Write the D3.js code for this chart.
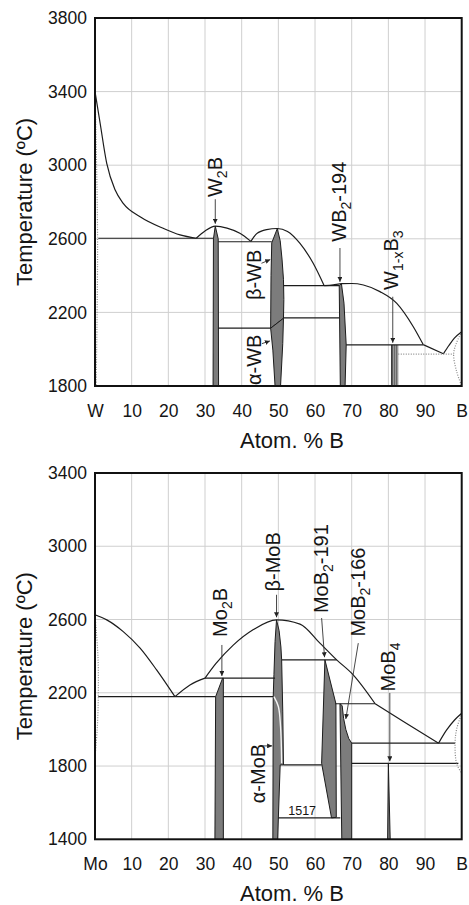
<!DOCTYPE html>
<html>
<head>
<meta charset="utf-8">
<script src="https://cdn.jsdelivr.net/npm/d3@7"></script>
<style>
  body { margin: 0; background: #fff; }
  svg { font-family: "Liberation Sans", Arial, Helvetica, sans-serif; }
  .grid line { stroke: #cfcfcf; stroke-width: 1; }
  .axis text { font-size: 17.5px; fill: #151515; }
  .axis path, .axis line { display: none; }
  .title { font-size: 22px; fill: #151515; }
  .boundary { fill: none; stroke: #1c1c1c; stroke-width: 1.2; }
  .dotted { fill: none; stroke: #8a8a8a; stroke-width: 1.2; stroke-dasharray: 1 1.5; }
  .phase { fill: #7c7c7c; stroke: #1c1c1c; stroke-width: 1; }
  .hatched { fill: url(#stripes); stroke: none; }
  .frame { fill: none; stroke: #111; stroke-width: 2; }
  .label { font-size: 20px; fill: #151515; }
  .note { font-size: 12.5px; fill: #151515; }
  .arrow { stroke: #333; stroke-width: 0.9; fill: none; }
</style>
</head>
<body>
<script>
// Set up page
var svgWidth = 469;
var svgHeight = 905;

// Shared composition ticks (at.% B)
var xTicks = [0, 10, 20, 30, 40, 50, 60, 70, 80, 90, 100];

// ---------- W-B diagram ----------
var wbTempTicks = [1800, 2200, 2600, 3000, 3400, 3800];

// liquidus pieces (smooth)
var wbLiquidusW = [[0, 3400], [1.4, 3228], [3.2, 3010], [5.5, 2865], [7.7, 2793], [12.3, 2720], [18.6, 2657], [23.2, 2621], [27.6, 2603]];
var wbLiquidusW2B = [[27.6, 2603], [30, 2642], [32.8, 2669], [36, 2658], [39.5, 2630], [42.5, 2586]];
var wbLiquidusWB = [[42.5, 2586], [44.1, 2628], [46.8, 2650], [49.7, 2656], [52.5, 2640], [55.9, 2575], [59.5, 2467], [62.5, 2345]];
var wbLiquidusWB2 = [[62.5, 2345], [65, 2350], [67.3, 2356], [70, 2357], [73.2, 2349], [77.7, 2313], [82.3, 2249], [86.8, 2122], [89.5, 2025]];
var wbLiquidusB = [[95, 1975], [96.5, 2020], [98, 2060], [100, 2095]];
var wbStraight = [[[89.5, 2025], [95, 1975]]];

// isotherms: [from x, to x, T]
var wbIsotherms = [
  [0.9, 32.3, 2603],
  [33.6, 48.2, 2584],
  [33.6, 47.9, 2114],
  [51.4, 66.6, 2170],
  [51.4, 66.6, 2345],
  [68.5, 89.5, 2023]
];

var wbDotted = [
  [[0, 3400], [0.7, 2603], [0.3, 1800]],
  [[82.7, 1973], [97.8, 1973]],
  [[100, 2095], [98.5, 2030], [97.8, 1973], [98.6, 1880], [100, 1800]]
];

// compound fields
var wbPhaseW2B = [[32.8, 2669], [32.3, 2600], [32.2, 1800], [33.7, 1800], [33.6, 2600]];
var wbPhaseBetaWB = [[49.7, 2655], [50.5, 2590], [51.0, 2490], [51.4, 2380], [51.5, 2270], [51.4, 2168], [47.9, 2114], [48.0, 2400], [48.2, 2578]];
var wbPhaseAlphaWB = [[47.9, 2114], [51.4, 2168], [51.2, 2030], [50.6, 1800], [49.1, 1800], [48.5, 1995]];
var wbPhaseWB2 = [[67.2, 2356], [66.6, 2345], [66.9, 1800], [68.2, 1800], [68.5, 2023], [67.9, 2250]];
var wbPhaseW1xB3 = [[80.9, 2023], [82.7, 2023], [82.7, 1800], [80.9, 1800]];

// labels: text parts ("_" = subscript), anchor composition and temperature
var wbLabels = [
  { parts: ["W", "_2", "B"], x: 34.6, t: 2827 },
  { parts: ["\u03b2-WB"], x: 45.2, t: 2267 },
  { parts: ["\u03b1-WB"], x: 45.2, t: 1805 },
  { parts: ["WB", "_2", "-194"], x: 68.4, t: 2584 },
  { parts: ["W", "_1-x", "B", "_3"], x: 82.6, t: 2322 }
];
var wbArrows = [
  [[32.8, 2815], [32.8, 2682]],
  [[45.4, 2467], [47.8, 2487]],
  [[45.5, 2030], [47.7, 2045]],
  [[66.8, 2550], [66.8, 2366]],
  [[81.2, 2285], [81.2, 2035]]
];

// ---------- Mo-B diagram ----------
var moTempTicks = [1400, 1800, 2200, 2600, 3000, 3400];

var moLiquidusMo = [[0, 2626], [3.2, 2598], [7.7, 2534], [12.3, 2444], [16.8, 2325], [21.8, 2179]];
var moLiquidusMo2B = [[21.8, 2179], [25.9, 2243], [30, 2280]];
var moLiquidusMoB = [[30, 2280], [33, 2360], [37.7, 2460], [43.2, 2545], [49.5, 2598], [55.9, 2575], [61.4, 2470], [65.9, 2380], [70.4, 2298], [76.4, 2140]];
var moLiquidusB = [[93.7, 1925], [95.9, 1997], [98, 2050], [100, 2088]];
var moStraight = [[[76.4, 2140], [84.1, 2043], [93.7, 1925]]];

var moIsotherms = [
  [0.9, 32.9, 2179],
  [35.0, 48.6, 2179],
  [30, 49.1, 2280],
  [50.9, 65.9, 2380],
  [65.5, 76.4, 2140],
  [70, 98.2, 1925],
  [70, 99.1, 1815],
  [51.4, 61.8, 1806],
  [50.0, 66.9, 1517]
];

var moDotted = [
  [[0, 2626], [0.8, 2400], [0.9, 2179], [0.6, 2000], [0, 1850]],
  [[100, 2088], [98.6, 2000], [98.2, 1925], [98.6, 1815], [100, 1760]]
];

var moPhaseMo2B = [[34.8, 2280], [32.9, 2179], [32.7, 1400], [35.0, 1400], [35.0, 2280]];
var moPhaseMoB = [[49.5, 2598], [50.2, 2540], [50.7, 2450], [50.9, 2380], [51.2, 2100], [51.4, 1806], [50.5, 1806], [49.8, 1400], [48.5, 1400], [48.6, 2179], [48.8, 2300], [49.1, 2480]];
var moPhaseMoB2191 = [[62.7, 2380], [65.7, 2140], [65.8, 1520], [64.5, 1517], [61.8, 1815]];
var moPhaseMoB2166 = [[66.8, 2140], [67.4, 2130], [67.8, 2060], [68.4, 2000], [69.2, 1950], [70, 1925], [70, 1400], [67.3, 1400]];
var moPhaseMoB4 = [[80.0, 1815], [80.5, 1400], [79.8, 1400]];
var moAlphaBeta = [[48.8, 2179], [50.0, 2125], [50.6, 2015], [50.9, 1815]];

var moLabels = [
  { parts: ["Mo", "_2", "B"], x: 36.0, t: 2505 },
  { parts: ["\u03b2-MoB"], x: 50.4, t: 2753 },
  { parts: ["MoB", "_2", "-191"], x: 63.5, t: 2635 },
  { parts: ["MoB", "_2", "-166"], x: 73.6, t: 2507 },
  { parts: ["MoB", "_4"], x: 81.8, t: 2207 },
  { parts: ["\u03b1-MoB"], x: 46.4, t: 1597 }
];
var moArrows = [
  [[34.6, 2461], [34.6, 2292]],
  [[49.5, 2735], [49.5, 2612]],
  [[61.8, 2608], [62.6, 2394]],
  [[71.8, 2471], [68.4, 2057]],
  [[80.4, 2199], [80.4, 1826]],
  [[45.5, 1910], [48.3, 1910]]
];
var moNotes = [{ text: "1517", x: 56.5, t: 1533 }];

// Create SVG wrapper
var svg = d3.select("body")
  .append("svg")
  .attr("width", svgWidth)
  .attr("height", svgHeight);

var defs = svg.append("defs");
defs.append("marker")
  .attr("id", "head")
  .attr("viewBox", "0 0 6 6")
  .attr("refX", 6)
  .attr("refY", 3)
  .attr("markerWidth", 5)
  .attr("markerHeight", 5)
  .attr("markerUnits", "userSpaceOnUse")
  .attr("orient", "auto")
  .append("path")
  .attr("d", "M0,0L6,3L0,6Z")
  .attr("fill", "#222");

var stripes = defs.append("pattern")
  .attr("id", "stripes")
  .attr("patternUnits", "userSpaceOnUse")
  .attr("width", 2)
  .attr("height", 2);
stripes.append("rect").attr("width", 2).attr("height", 2).attr("fill", "#9a9a9a");
stripes.append("rect").attr("width", 1).attr("height", 2).attr("fill", "#6a6a6a");

// Draws one phase diagram panel
function drawPanel(p) {
  var x = d3.scaleLinear().domain([0, 100]).range([95, 461.7]);
  var y = d3.scaleLinear().domain(p.tDomain).range([p.bottom, p.top]);
  var g = svg.append("g");

  var smooth = d3.line().x(d => x(d[0])).y(d => y(d[1])).curve(d3.curveMonotoneX);
  var straight = d3.line().x(d => x(d[0])).y(d => y(d[1]));
  var closed = d3.line().x(d => x(d[0])).y(d => y(d[1])).curve(d3.curveLinearClosed);
  var soft = d3.line().x(d => x(d[0])).y(d => y(d[1])).curve(d3.curveCatmullRom);

  // grid
  var grid = g.append("g").classed("grid", true);
  grid.selectAll(".gx")
    .data(xTicks.slice(1, -1))
    .enter()
    .append("line")
    .attr("x1", d => x(d)).attr("x2", d => x(d))
    .attr("y1", p.top).attr("y2", p.bottom);
  grid.selectAll(".gy")
    .data(p.tTicks.slice(1, -1))
    .enter()
    .append("line")
    .attr("x1", x(0)).attr("x2", x(100))
    .attr("y1", d => y(d)).attr("y2", d => y(d));

  // compound fields
  g.selectAll(".phase")
    .data(p.phases)
    .enter()
    .append("path")
    .classed("phase", true)
    .attr("d", closed);
  g.selectAll(".hatched")
    .data(p.hatched)
    .enter()
    .append("path")
    .classed("hatched", true)
    .attr("d", closed);
  g.selectAll(".hatchedge")
    .data(p.hatched)
    .enter()
    .append("line")
    .attr("x1", d => x(d[0][0])).attr("x2", d => x(d[0][0]))
    .attr("y1", d => y(d[0][1])).attr("y2", d => y(d[3][1]))
    .attr("stroke", "#333").attr("stroke-width", 1.2);

  if (p.whiteCurve) {
    g.append("path")
      .attr("d", soft(p.whiteCurve))
      .attr("fill", "none")
      .attr("stroke", "#f4f4f4")
      .attr("stroke-width", 1.4);
  }

  // liquidus and straight boundaries
  g.selectAll(".liq")
    .data(p.liquidus)
    .enter()
    .append("path")
    .classed("boundary", true)
    .attr("d", smooth);
  g.selectAll(".str")
    .data(p.straight)
    .enter()
    .append("path")
    .classed("boundary", true)
    .attr("d", straight);
  g.selectAll(".iso")
    .data(p.isotherms)
    .enter()
    .append("line")
    .classed("boundary", true)
    .attr("x1", d => x(d[0])).attr("x2", d => x(d[1]))
    .attr("y1", d => y(d[2])).attr("y2", d => y(d[2]));
  g.selectAll(".dot")
    .data(p.dotted)
    .enter()
    .append("path")
    .classed("dotted", true)
    .attr("d", soft);

  // frame
  g.append("rect")
    .classed("frame", true)
    .attr("x", x(0)).attr("y", p.top)
    .attr("width", x(100) - x(0))
    .attr("height", p.bottom - p.top);

  // rotated phase labels
  var labels = g.selectAll(".label")
    .data(p.labels)
    .enter()
    .append("text")
    .classed("label", true)
    .attr("transform", d => `translate(${x(d.x)}, ${y(d.t)}) rotate(-90)`);
  labels.each(function(d) {
    var t = d3.select(this);
    var shifted = false;
    d.parts.forEach(part => {
      var sub = part[0] === "_";
      var span = t.append("tspan").text(sub ? part.slice(1) : part);
      if (sub) {
        span.attr("font-size", "14px").attr("dy", 5);
        shifted = true;
      } else if (shifted) {
        span.attr("dy", -5);
        shifted = false;
      }
    });
  });

  g.selectAll(".arrow")
    .data(p.arrows)
    .enter()
    .append("path")
    .classed("arrow", true)
    .attr("d", straight)
    .attr("marker-end", "url(#head)");

  g.selectAll(".note")
    .data(p.notes)
    .enter()
    .append("text")
    .classed("note", true)
    .attr("x", d => x(d.x))
    .attr("y", d => y(d.t))
    .attr("text-anchor", "middle")
    .text(d => d.text);

  // axes
  var bottomAxis = d3.axisBottom(x)
    .tickValues(xTicks)
    .tickSize(0)
    .tickPadding(18.5)
    .tickFormat(d => d === 0 ? p.element : (d === 100 ? "B" : d));
  g.append("g")
    .classed("axis", true)
    .attr("transform", `translate(0, ${p.bottom})`)
    .call(bottomAxis);

  var leftAxis = d3.axisLeft(y)
    .tickValues(p.tTicks)
    .tickSize(0)
    .tickPadding(8)
    .tickFormat(d3.format("d"));
  g.append("g")
    .classed("axis", true)
    .attr("transform", `translate(${x(0)}, 0)`)
    .call(leftAxis);

  g.append("text")
    .classed("title", true)
    .attr("x", 292)
    .attr("y", p.xTitleY)
    .attr("text-anchor", "middle")
    .text("Atom. % B");

  g.append("text")
    .classed("title", true)
    .attr("transform", `translate(32, ${(p.top + p.bottom) / 2}) rotate(-90)`)
    .attr("text-anchor", "middle")
    .text("Temperature (\u00baC)");
}

drawPanel({
  element: "W",
  top: 18, bottom: 386,
  tDomain: [1800, 3800], tTicks: wbTempTicks,
  liquidus: [wbLiquidusW, wbLiquidusW2B, wbLiquidusWB, wbLiquidusWB2, wbLiquidusB],
  straight: wbStraight,
  isotherms: wbIsotherms,
  dotted: wbDotted,
  phases: [wbPhaseW2B, wbPhaseBetaWB, wbPhaseAlphaWB, wbPhaseWB2],
  hatched: [wbPhaseW1xB3],
  labels: wbLabels,
  arrows: wbArrows,
  notes: [],
  xTitleY: 448
});

drawPanel({
  element: "Mo",
  top: 473, bottom: 839.3,
  tDomain: [1400, 3400], tTicks: moTempTicks,
  liquidus: [moLiquidusMo, moLiquidusMo2B, moLiquidusMoB, moLiquidusB],
  straight: moStraight,
  isotherms: moIsotherms,
  dotted: moDotted,
  phases: [moPhaseMo2B, moPhaseMoB, moPhaseMoB2191, moPhaseMoB2166, moPhaseMoB4],
  hatched: [],
  whiteCurve: moAlphaBeta,
  labels: moLabels,
  arrows: moArrows,
  notes: moNotes,
  xTitleY: 901
});
</script>
</body>
</html>
